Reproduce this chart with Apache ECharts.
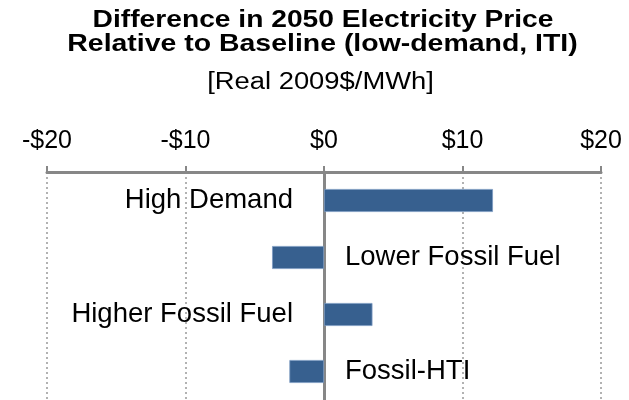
<!DOCTYPE html>
<html>
<head>
<meta charset="utf-8">
<script src="https://cdn.jsdelivr.net/npm/echarts@6/dist/echarts.min.js"></script>
<style>
html,body{margin:0;padding:0;background:#fff;}
#chart{width:629px;height:400px;}
</style>
</head>
<body>
<div id="chart"></div>
<script>
const titleLines = ['Difference in 2050 Electricity Price', 'Relative to Baseline (low-demand, ITI)'];
const subtitle = '[Real 2009$/MWh]';
const categories = ['High Demand', 'Lower Fossil Fuel', 'Higher Fossil Fuel', 'Fossil-HTI'];
const values = [12.2, -3.75, 3.5, -2.5];
const axisMin = -20, axisMax = 20, axisStep = 10;

const FONT = '"Liberation Sans", Arial, Helvetica, sans-serif';
const AXIS_GRAY = '#878787';

const chart = echarts.init(document.getElementById('chart'));
chart.setOption({
  animation: false,
  backgroundColor: '#ffffff',
  graphic: [
    { type: 'text', x: 323, y: 20.5, scaleX: 1.175, style: { text: titleLines[0], font: 'bold 24px ' + FONT, fill: '#000', align: 'center', verticalAlign: 'middle' } },
    { type: 'text', x: 322.5, y: 44.8, scaleX: 1.185, style: { text: titleLines[1], font: 'bold 24px ' + FONT, fill: '#000', align: 'center', verticalAlign: 'middle' } },
    { type: 'text', x: 320.5, y: 83, scaleX: 1.19, style: { text: subtitle, font: '23px ' + FONT, fill: '#000', align: 'center', verticalAlign: 'middle' } }
  ],
  grid: { left: 47, right: 28, top: 172, bottom: -1, containLabel: false },
  xAxis: {
    type: 'value', position: 'top', min: axisMin, max: axisMax, interval: axisStep,
    axisLine: { show: true, lineStyle: { color: AXIS_GRAY, width: 3 } },
    axisTick: { show: true, length: 6, lineStyle: { color: AXIS_GRAY, width: 2 } },
    axisLabel: {
      margin: 18, color: '#000', fontSize: 25, fontFamily: FONT,
      formatter: v => (v < 0 ? '-$' + Math.abs(v) : '$' + v)
    },
    splitLine: { show: true, lineStyle: { color: '#999999', width: 1.5, type: [2, 3] } }
  },
  yAxis: {
    type: 'category', data: categories, inverse: true,
    axisLine: { show: true, onZero: true, lineStyle: { color: AXIS_GRAY, width: 3 } },
    axisTick: { show: false },
    axisLabel: { show: false },
    splitLine: { show: false }
  },
  series: [{
    type: 'bar',
    barWidth: 23,
    itemStyle: { color: '#37608f', borderColor: '#7c9ac2', borderWidth: 0.8 },
    data: values.map(v => ({
      value: v,
      label: {
        show: true,
        position: v >= 0 ? 'left' : 'right',
        distance: v >= 0 ? 31 : 21,
        formatter: '{b}',
        color: '#000',
        fontSize: 27.5,
        fontFamily: FONT
      }
    })),
    z: 1
  }]
});
</script>
</body>
</html>
